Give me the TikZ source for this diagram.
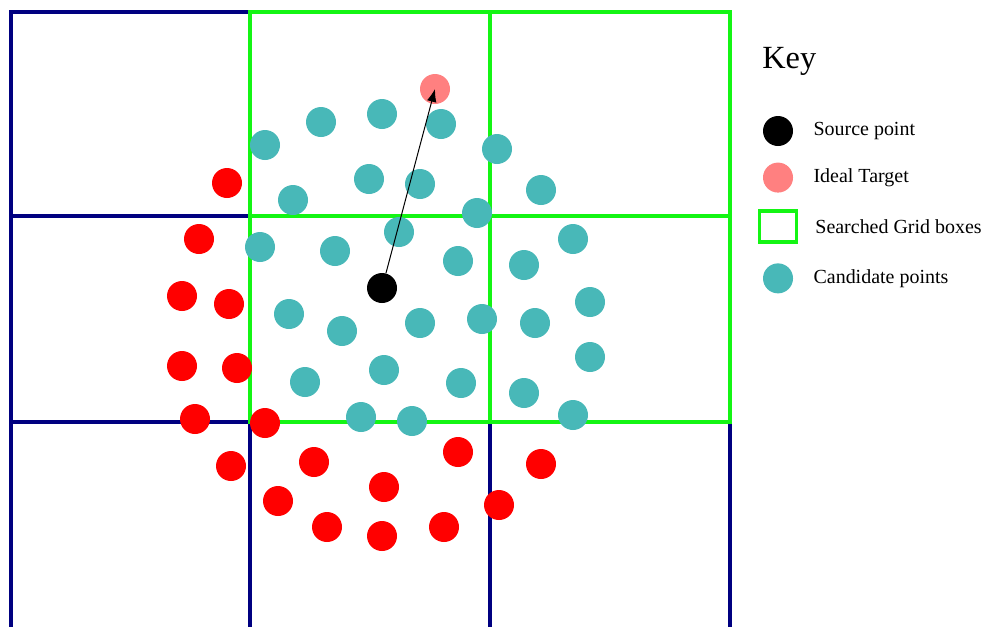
\documentclass[tikz,border=0pt]{standalone}
\usepackage{fontspec}
\setmainfont{Liberation Serif}
\usepackage{tikz}
\usetikzlibrary{arrows.meta, positioning}
\definecolor{gridnavy}{RGB}{0,0,128}
\definecolor{searchgreen}{RGB}{20,245,20}
\definecolor{candteal}{RGB}{72,184,184}
\definecolor{targetpink}{RGB}{255,128,128}
\definecolor{outred}{RGB}{255,0,0}

\begin{document}
\begin{tikzpicture}[
        x=0.025cm, y=-0.025cm,
        gridline/.style={draw=gridnavy, line width=0.085cm, line cap=rect},
        searchbox/.style={draw=searchgreen, line width=0.09cm},
        dot/.style={circle, inner sep=0pt, minimum size=0.75cm},
        canddot/.style={dot, fill=candteal},
        reddot/.style={dot, fill=outred},
        srcdot/.style={dot, fill=black},
        tgtdot/.style={dot, fill=targetpink},
        keybox/.style={rectangle, draw=searchgreen, line width=0.085cm, minimum width=0.93cm, minimum height=0.78cm},
        keytext/.style={inner sep=0pt, font=\fontsize{14.2}{17}\selectfont},
        arrow/.style={draw, -{Latex[length=0.32cm, width=0.24cm]}, line width=0.025cm}
    ]
        \useasboundingbox (0,0) rectangle (983,626);
        % navy grid
        \foreach \gx in {11,250,490,730}
            \path [gridline] (\gx,12) -- (\gx,626);
        \foreach \gy in {12,216,422}
            \path [gridline] (11,\gy) -- (730,\gy);
        % searched grid boxes
        \path [searchbox] (250,12)  rectangle (490,216);
        \path [searchbox] (490,12)  rectangle (730,216);
        \path [searchbox] (250,216) rectangle (490,422);
        \path [searchbox] (490,216) rectangle (730,422);
        % points outside the search
        \foreach \px/\py [count=\i] in {227/183, 199/239, 182/296, 229/304, 182/366, 237/368,
                195/419, 265/423, 231/466, 314/462, 278/501, 327/527, 384/487, 382/536,
                444/527, 458/452, 499/505, 541/464}
            \node [reddot] (out\i) at (\px,\py) {};
        % candidate points
        \foreach \px/\py [count=\i] in {265/145, 321/122, 382/114, 441/124, 497/149, 541/190,
                293/200, 369/179, 420/184, 477/213, 260/247, 335/251, 399/232, 458/261,
                524/265, 573/239, 289/314, 342/331, 420/323, 482/319, 535/323, 590/302,
                590/357, 305/382, 384/370, 461/383, 524/393, 573/415, 361/417, 412/421}
            \node [canddot] (cand\i) at (\px,\py) {};
        \node [tgtdot] (tgt) at (435,89) {};
        \node [srcdot] (src) at (382,288) {};
        \path [arrow] (src) -- (tgt.center);
        % key
        \node [inner sep=0pt, anchor=base west, font=\fontsize{23}{26}\selectfont] (keytitle) at (762,68) {Key};
        \node [srcdot] (keysrc) at (778,131) {};
        \node [keytext, right=0.5cm of keysrc] (keysrctext) {Source point};
        \node [tgtdot, below=0.4cm of keysrc] (keytgt) {};
        \node [keytext, right=0.5cm of keytgt] (keytgttext) {Ideal Target};
        \node [keybox, below=0.41cm of keytgt] (keygrid) {};
        \node [keytext, right=0.42cm of keygrid] (keygridtext) {Searched Grid boxes};
        \node [canddot, below=0.48cm of keygrid] (keycand) {};
        \node [keytext, right=0.5cm of keycand] (keycandtext) {Candidate points};
\end{tikzpicture}
\end{document}
